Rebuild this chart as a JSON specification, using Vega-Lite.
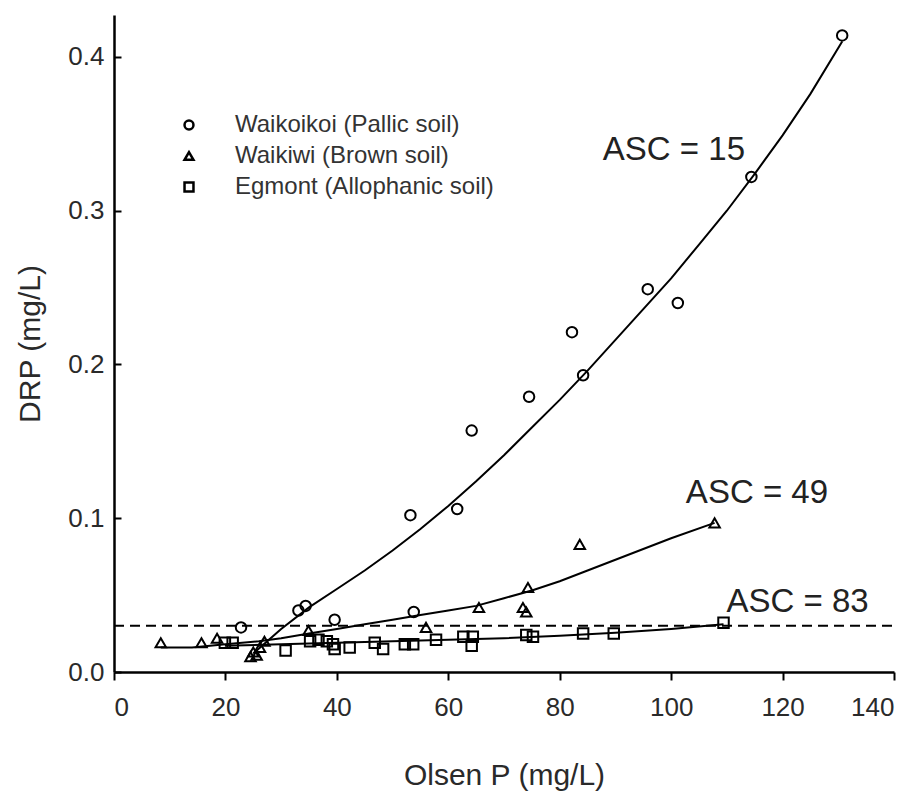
{
  "$schema": "https://vega.github.io/schema/vega-lite/v6.json",
  "width": 780,
  "height": 657,
  "autosize": "none",
  "padding": {"left": 114, "top": 15, "right": 29, "bottom": 126},
  "background": "white",
  "config": {
    "view": {"stroke": null},
    "font": "Liberation Sans",
    "axis": {
      "domainColor": "black",
      "domainWidth": 2.5,
      "tickColor": "black",
      "tickWidth": 2,
      "grid": false,
      "labelColor": "#2a2a2a",
      "titleColor": "#2a2a2a",
      "labelFontSize": 26,
      "titleFontSize": 30,
      "titleFontWeight": "normal",
      "labelFont": "Liberation Sans",
      "titleFont": "Liberation Sans"
    }
  },
  "datasets": {
    "points": [
      {"olsen": 22.8, "drp": 0.029, "soil": "Waikoikoi (Pallic soil)"},
      {"olsen": 33.1, "drp": 0.040, "soil": "Waikoikoi (Pallic soil)"},
      {"olsen": 34.4, "drp": 0.043, "soil": "Waikoikoi (Pallic soil)"},
      {"olsen": 39.6, "drp": 0.034, "soil": "Waikoikoi (Pallic soil)"},
      {"olsen": 53.8, "drp": 0.039, "soil": "Waikoikoi (Pallic soil)"},
      {"olsen": 53.2, "drp": 0.102, "soil": "Waikoikoi (Pallic soil)"},
      {"olsen": 61.6, "drp": 0.106, "soil": "Waikoikoi (Pallic soil)"},
      {"olsen": 64.2, "drp": 0.157, "soil": "Waikoikoi (Pallic soil)"},
      {"olsen": 74.5, "drp": 0.179, "soil": "Waikoikoi (Pallic soil)"},
      {"olsen": 82.2, "drp": 0.221, "soil": "Waikoikoi (Pallic soil)"},
      {"olsen": 84.2, "drp": 0.193, "soil": "Waikoikoi (Pallic soil)"},
      {"olsen": 95.8, "drp": 0.249, "soil": "Waikoikoi (Pallic soil)"},
      {"olsen": 101.2, "drp": 0.240, "soil": "Waikoikoi (Pallic soil)"},
      {"olsen": 114.4, "drp": 0.322, "soil": "Waikoikoi (Pallic soil)"},
      {"olsen": 130.7, "drp": 0.414, "soil": "Waikoikoi (Pallic soil)"},
      {"olsen": 8.4, "drp": 0.019, "soil": "Waikiwi (Brown soil)"},
      {"olsen": 15.7, "drp": 0.019, "soil": "Waikiwi (Brown soil)"},
      {"olsen": 18.5, "drp": 0.022, "soil": "Waikiwi (Brown soil)"},
      {"olsen": 24.5, "drp": 0.010, "soil": "Waikiwi (Brown soil)"},
      {"olsen": 25.0, "drp": 0.013, "soil": "Waikiwi (Brown soil)"},
      {"olsen": 25.6, "drp": 0.011, "soil": "Waikiwi (Brown soil)"},
      {"olsen": 26.2, "drp": 0.016, "soil": "Waikiwi (Brown soil)"},
      {"olsen": 27.0, "drp": 0.020, "soil": "Waikiwi (Brown soil)"},
      {"olsen": 34.9, "drp": 0.027, "soil": "Waikiwi (Brown soil)"},
      {"olsen": 56.0, "drp": 0.029, "soil": "Waikiwi (Brown soil)"},
      {"olsen": 65.5, "drp": 0.042, "soil": "Waikiwi (Brown soil)"},
      {"olsen": 73.4, "drp": 0.042, "soil": "Waikiwi (Brown soil)"},
      {"olsen": 74.0, "drp": 0.039, "soil": "Waikiwi (Brown soil)"},
      {"olsen": 74.3, "drp": 0.055, "soil": "Waikiwi (Brown soil)"},
      {"olsen": 83.6, "drp": 0.083, "soil": "Waikiwi (Brown soil)"},
      {"olsen": 107.8, "drp": 0.097, "soil": "Waikiwi (Brown soil)"},
      {"olsen": 19.9, "drp": 0.019, "soil": "Egmont (Allophanic soil)"},
      {"olsen": 21.3, "drp": 0.019, "soil": "Egmont (Allophanic soil)"},
      {"olsen": 30.8, "drp": 0.014, "soil": "Egmont (Allophanic soil)"},
      {"olsen": 35.2, "drp": 0.020, "soil": "Egmont (Allophanic soil)"},
      {"olsen": 36.7, "drp": 0.021, "soil": "Egmont (Allophanic soil)"},
      {"olsen": 38.2, "drp": 0.020, "soil": "Egmont (Allophanic soil)"},
      {"olsen": 39.3, "drp": 0.018, "soil": "Egmont (Allophanic soil)"},
      {"olsen": 39.6, "drp": 0.015, "soil": "Egmont (Allophanic soil)"},
      {"olsen": 42.3, "drp": 0.016, "soil": "Egmont (Allophanic soil)"},
      {"olsen": 46.8, "drp": 0.019, "soil": "Egmont (Allophanic soil)"},
      {"olsen": 48.3, "drp": 0.015, "soil": "Egmont (Allophanic soil)"},
      {"olsen": 52.2, "drp": 0.018, "soil": "Egmont (Allophanic soil)"},
      {"olsen": 53.7, "drp": 0.018, "soil": "Egmont (Allophanic soil)"},
      {"olsen": 57.8, "drp": 0.021, "soil": "Egmont (Allophanic soil)"},
      {"olsen": 62.7, "drp": 0.023, "soil": "Egmont (Allophanic soil)"},
      {"olsen": 64.4, "drp": 0.023, "soil": "Egmont (Allophanic soil)"},
      {"olsen": 64.2, "drp": 0.017, "soil": "Egmont (Allophanic soil)"},
      {"olsen": 74.0, "drp": 0.024, "soil": "Egmont (Allophanic soil)"},
      {"olsen": 75.2, "drp": 0.023, "soil": "Egmont (Allophanic soil)"},
      {"olsen": 84.2, "drp": 0.025, "soil": "Egmont (Allophanic soil)"},
      {"olsen": 89.7, "drp": 0.025, "soil": "Egmont (Allophanic soil)"},
      {"olsen": 109.4, "drp": 0.032, "soil": "Egmont (Allophanic soil)"}
    ],
    "fits": [
      {"olsen": 25, "drp": 0.012, "soil": "Waikoikoi"},
      {"olsen": 30, "drp": 0.028, "soil": "Waikoikoi"},
      {"olsen": 35, "drp": 0.042, "soil": "Waikoikoi"},
      {"olsen": 40, "drp": 0.054, "soil": "Waikoikoi"},
      {"olsen": 45, "drp": 0.066, "soil": "Waikoikoi"},
      {"olsen": 50, "drp": 0.079, "soil": "Waikoikoi"},
      {"olsen": 55, "drp": 0.093, "soil": "Waikoikoi"},
      {"olsen": 60, "drp": 0.108, "soil": "Waikoikoi"},
      {"olsen": 65, "drp": 0.124, "soil": "Waikoikoi"},
      {"olsen": 70, "drp": 0.141, "soil": "Waikoikoi"},
      {"olsen": 75, "drp": 0.159, "soil": "Waikoikoi"},
      {"olsen": 80, "drp": 0.177, "soil": "Waikoikoi"},
      {"olsen": 85, "drp": 0.196, "soil": "Waikoikoi"},
      {"olsen": 90, "drp": 0.216, "soil": "Waikoikoi"},
      {"olsen": 95, "drp": 0.236, "soil": "Waikoikoi"},
      {"olsen": 100, "drp": 0.256, "soil": "Waikoikoi"},
      {"olsen": 105, "drp": 0.278, "soil": "Waikoikoi"},
      {"olsen": 110, "drp": 0.300, "soil": "Waikoikoi"},
      {"olsen": 115, "drp": 0.324, "soil": "Waikoikoi"},
      {"olsen": 120, "drp": 0.349, "soil": "Waikoikoi"},
      {"olsen": 125, "drp": 0.376, "soil": "Waikoikoi"},
      {"olsen": 130.7, "drp": 0.410, "soil": "Waikoikoi"},
      {"olsen": 8.4, "drp": 0.016, "soil": "Waikiwi"},
      {"olsen": 14, "drp": 0.016, "soil": "Waikiwi"},
      {"olsen": 20, "drp": 0.018, "soil": "Waikiwi"},
      {"olsen": 26, "drp": 0.020, "soil": "Waikiwi"},
      {"olsen": 30, "drp": 0.022, "soil": "Waikiwi"},
      {"olsen": 35, "drp": 0.025, "soil": "Waikiwi"},
      {"olsen": 40, "drp": 0.028, "soil": "Waikiwi"},
      {"olsen": 45, "drp": 0.031, "soil": "Waikiwi"},
      {"olsen": 50, "drp": 0.034, "soil": "Waikiwi"},
      {"olsen": 55, "drp": 0.037, "soil": "Waikiwi"},
      {"olsen": 60, "drp": 0.040, "soil": "Waikiwi"},
      {"olsen": 65, "drp": 0.043, "soil": "Waikiwi"},
      {"olsen": 70, "drp": 0.048, "soil": "Waikiwi"},
      {"olsen": 75, "drp": 0.053, "soil": "Waikiwi"},
      {"olsen": 80, "drp": 0.059, "soil": "Waikiwi"},
      {"olsen": 85, "drp": 0.066, "soil": "Waikiwi"},
      {"olsen": 90, "drp": 0.073, "soil": "Waikiwi"},
      {"olsen": 95, "drp": 0.080, "soil": "Waikiwi"},
      {"olsen": 100, "drp": 0.087, "soil": "Waikiwi"},
      {"olsen": 107.8, "drp": 0.097, "soil": "Waikiwi"},
      {"olsen": 19.9, "drp": 0.017, "soil": "Egmont"},
      {"olsen": 30, "drp": 0.018, "soil": "Egmont"},
      {"olsen": 40, "drp": 0.019, "soil": "Egmont"},
      {"olsen": 50, "drp": 0.020, "soil": "Egmont"},
      {"olsen": 60, "drp": 0.021, "soil": "Egmont"},
      {"olsen": 70, "drp": 0.022, "soil": "Egmont"},
      {"olsen": 80, "drp": 0.0235, "soil": "Egmont"},
      {"olsen": 90, "drp": 0.0255, "soil": "Egmont"},
      {"olsen": 100, "drp": 0.028, "soil": "Egmont"},
      {"olsen": 109.4, "drp": 0.031, "soil": "Egmont"}
    ],
    "threshold": [
      {"x0": 0, "x1": 140, "drp": 0.03}
    ],
    "labels": [
      {"olsen": 100.5, "drp": 0.333, "text": "ASC = 15"},
      {"olsen": 115.4, "drp": 0.110, "text": "ASC = 49"},
      {"olsen": 122.7, "drp": 0.039, "text": "ASC = 83"}
    ]
  },
  "layer": [
    {
      "data": {"name": "threshold"},
      "mark": {"type": "rule", "color": "black", "strokeWidth": 2, "strokeDash": [10, 6]},
      "encoding": {
        "x": {"field": "x0", "type": "quantitative", "scale": {"domain": [0, 140], "nice": false},
              "axis": {"values": [0, 20, 40, 60, 80, 100, 120, 140], "tickSize": 8, "labelPadding": 14, "title": "Olsen P (mg/L)", "titlePadding": 40}},
        "x2": {"field": "x1"},
        "y": {"field": "drp", "type": "quantitative", "scale": {"domain": [0, 0.4273], "nice": false},
              "axis": {"values": [0, 0.1, 0.2, 0.3, 0.4], "format": ".1f", "tickSize": -7, "labelPadding": 17, "title": "DRP (mg/L)", "titlePadding": 22}}
      }
    },
    {
      "data": {"name": "fits"},
      "mark": {"type": "line", "color": "black", "strokeWidth": 2},
      "encoding": {
        "x": {"field": "olsen", "type": "quantitative"},
        "y": {"field": "drp", "type": "quantitative"},
        "detail": {"field": "soil"}
      }
    },
    {
      "data": {"name": "points"},
      "mark": {"type": "point", "filled": false, "color": "black", "strokeWidth": 2, "size": 110, "opacity": 1},
      "encoding": {
        "x": {"field": "olsen", "type": "quantitative"},
        "y": {"field": "drp", "type": "quantitative"},
        "shape": {
          "field": "soil", "type": "nominal",
          "scale": {"domain": ["Waikoikoi (Pallic soil)", "Waikiwi (Brown soil)", "Egmont (Allophanic soil)"], "range": ["circle", "triangle-up", "square"]},
          "legend": {
            "title": null, "orient": "none", "legendX": 63, "legendY": 98,
            "labelFontSize": 24, "labelColor": "#333", "labelFont": "Liberation Sans", "labelLimit": 0,
            "symbolSize": 80, "symbolStrokeWidth": 2.5, "symbolStrokeColor": "black", "symbolFillColor": "white",
            "labelOffset": 34, "rowPadding": 7
          }
        }
      }
    },
    {
      "data": {"name": "labels"},
      "mark": {"type": "text", "fontSize": 33, "color": "#222", "align": "center", "baseline": "alphabetic", "font": "Liberation Sans"},
      "encoding": {
        "x": {"field": "olsen", "type": "quantitative"},
        "y": {"field": "drp", "type": "quantitative"},
        "text": {"field": "text"}
      }
    }
  ]
}
